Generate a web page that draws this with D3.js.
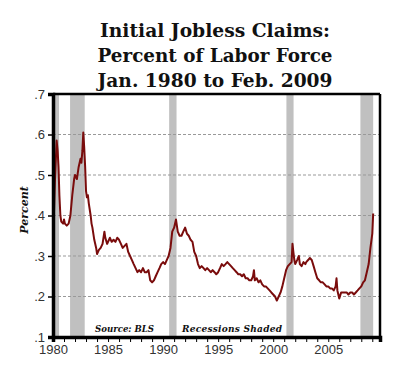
<!DOCTYPE html>
<html><head><meta charset="utf-8">
<script src="https://cdn.jsdelivr.net/npm/d3@7"></script>
<style>body{margin:0;background:#fff}</style>
</head><body>
<svg id="c" width="400" height="366"></svg>
<script>
const titleLines = ["Initial Jobless Claims:", "Percent of Labor Force", "Jan. 1980 to Feb. 2009"];
const yTicks = [0.1, 0.2, 0.3, 0.4, 0.5, 0.6, 0.7];
const yTickLabels = [".1", ".2", ".3", ".4", ".5", ".6", ".7"];
const xTicks = [1980, 1985, 1990, 1995, 2000, 2005];
const recessions = [[1980.08, 1980.55], [1981.55, 1982.88], [1990.55, 1991.22], [2001.2, 2001.85], [2007.92, 2009.08]];
const years = [
1980.00,1980.08,1980.17,1980.33,1980.42,1980.50,1980.58,1980.67,1980.75,1980.92,
1981.00,1981.08,1981.25,1981.42,1981.58,1981.75,1981.92,1982.00,1982.17,1982.33,
1982.50,1982.58,1982.67,1982.75,1982.83,1982.92,1983.00,1983.08,1983.17,1983.25,
1983.42,1983.50,1983.58,1983.75,1983.92,1984.00,1984.17,1984.33,1984.50,1984.67,
1984.75,1984.92,1985.00,1985.17,1985.33,1985.50,1985.67,1985.83,1986.00,1986.17,
1986.33,1986.50,1986.67,1986.83,1987.00,1987.17,1987.33,1987.50,1987.67,1987.83,
1988.00,1988.17,1988.33,1988.50,1988.67,1988.83,1989.00,1989.17,1989.33,1989.50,
1989.67,1989.83,1990.00,1990.17,1990.33,1990.50,1990.67,1990.83,1991.00,1991.17,
1991.33,1991.50,1991.67,1991.83,1992.00,1992.17,1992.33,1992.50,1992.67,1992.83,
1993.00,1993.17,1993.33,1993.50,1993.67,1993.83,1994.00,1994.17,1994.33,1994.50,
1994.67,1994.83,1995.00,1995.17,1995.33,1995.50,1995.67,1995.83,1996.00,1996.17,
1996.33,1996.50,1996.67,1996.83,1997.00,1997.17,1997.33,1997.50,1997.67,1997.83,
1998.00,1998.17,1998.25,1998.33,1998.50,1998.67,1998.83,1999.00,1999.17,1999.33,
1999.50,1999.67,1999.83,2000.00,2000.17,2000.33,2000.50,2000.67,2000.83,2001.00,
2001.17,2001.33,2001.50,2001.67,2001.75,2001.83,2001.92,2002.00,2002.17,2002.33,
2002.42,2002.58,2002.75,2002.92,2003.00,2003.17,2003.33,2003.50,2003.67,2003.83,
2004.00,2004.17,2004.33,2004.50,2004.67,2004.83,2005.00,2005.17,2005.33,2005.50,
2005.67,2005.75,2005.83,2006.00,2006.17,2006.33,2006.50,2006.67,2006.83,2007.00,
2007.17,2007.33,2007.50,2007.67,2007.83,2008.00,2008.17,2008.33,2008.50,2008.67,
2008.83,2009.00,2009.08];
const claims = [
.395,.40,.48,.585,.56,.52,.45,.40,.385,.38,
.39,.38,.375,.38,.40,.45,.49,.50,.49,.52,
.54,.53,.56,.605,.57,.52,.46,.445,.45,.43,
.40,.38,.37,.34,.32,.305,.315,.32,.33,.36,
.345,.33,.335,.345,.335,.34,.335,.345,.34,.33,
.32,.325,.33,.31,.30,.29,.28,.27,.26,.265,
.26,.27,.26,.26,.265,.24,.235,.24,.25,.26,
.27,.28,.285,.28,.29,.30,.32,.36,.37,.39,
.36,.35,.35,.36,.37,.355,.35,.34,.335,.31,
.30,.28,.27,.275,.27,.265,.27,.265,.26,.265,
.26,.255,.26,.27,.28,.275,.28,.285,.28,.275,
.27,.265,.26,.255,.255,.25,.255,.245,.245,.24,
.24,.25,.265,.24,.245,.235,.24,.23,.225,.225,
.22,.215,.21,.205,.20,.19,.20,.21,.225,.245,
.265,.275,.28,.285,.33,.31,.29,.28,.29,.30,
.28,.275,.285,.28,.285,.29,.295,.29,.275,.26,
.245,.24,.235,.235,.23,.225,.225,.22,.22,.215,
.225,.245,.215,.195,.21,.21,.21,.21,.205,.21,
.21,.205,.21,.215,.22,.225,.235,.24,.26,.28,
.32,.355,.405];

const svg = d3.select("#c");
const x = d3.scaleLinear().domain([1980, 2009.7]).range([53, 380]);
const y = d3.scaleLinear().domain([0.1, 0.7]).range([337, 94]);

// title
svg.selectAll("text.title").data(titleLines).enter().append("text")
  .attr("class","title")
  .attr("x", 215).attr("y", (d,i) => 37 + i*25)
  .attr("text-anchor","middle")
  .attr("font-family","'DejaVu Serif', serif").attr("font-weight","bold")
  .attr("font-size", 19).attr("fill","#111")
  .attr("textLength", (d,i) => [230,235,235][i]).attr("lengthAdjust","spacingAndGlyphs")
  .text(d => d);

// recessions
svg.selectAll("rect.rec").data(recessions).enter().append("rect")
  .attr("x", d => x(d[0])).attr("width", d => x(d[1]) - x(d[0]))
  .attr("y", y(0.7)).attr("height", y(0.1) - y(0.7))
  .attr("fill","#c0c0c0");

// grid
svg.selectAll("line.grid").data(yTicks.slice(1, -1)).enter().append("line")
  .attr("x1", x(1980)).attr("x2", x(2009.7))
  .attr("y1", d => y(d)).attr("y2", d => y(d))
  .attr("stroke","#999").attr("stroke-width",1).attr("stroke-dasharray","3,2");

// line
const line = d3.line().x((d,i) => x(years[i])).y(d => y(d));
svg.append("path").datum(claims).attr("d", line)
  .attr("fill","none").attr("stroke","#7a0c0c").attr("stroke-width",2).attr("stroke-linejoin","round");

// frame
svg.append("line").attr("x1", x(1980)).attr("x2", x(2009.7)).attr("y1", y(0.7)).attr("y2", y(0.7)).attr("stroke","#000").attr("stroke-width",2.5);
svg.append("line").attr("x1", x(2009.7)).attr("x2", x(2009.7)).attr("y1", y(0.7)).attr("y2", y(0.1)).attr("stroke","#000").attr("stroke-width",2.5);

// y axis
const yAxis = d3.axisLeft(y).tickValues(yTicks).tickFormat((d,i) => yTickLabels[i]).tickSize(5).tickPadding(3);
const ya = svg.append("g").attr("transform", `translate(${x(1980)},0)`).call(yAxis);
ya.select(".domain").attr("stroke","#000").attr("stroke-width",3.5);
ya.selectAll(".tick line").attr("stroke","#000").attr("stroke-width",1.5);
ya.selectAll(".tick text").attr("font-family","'Liberation Sans', Arial, sans-serif").attr("font-size",13).attr("fill","#333");

// x axis
const yearTicks = d3.range(1980, 2010);
const xAxis = d3.axisBottom(x).tickValues(yearTicks).tickFormat(d => xTicks.includes(d) ? String(d) : "").tickSize(5).tickPadding(3);
const xa = svg.append("g").attr("transform", `translate(0,${y(0.1)})`).call(xAxis);
xa.select(".domain").attr("stroke","#000").attr("stroke-width",3.5);
xa.selectAll(".tick line").attr("stroke","#000").attr("stroke-width",1);
xa.selectAll(".tick text").attr("font-family","'Liberation Sans', Arial, sans-serif").attr("font-size",13).attr("fill","#333");

// y label
svg.append("text").attr("transform","translate(28,210) rotate(-90)")
  .attr("text-anchor","middle").attr("font-family","'DejaVu Serif', serif")
  .attr("font-weight","bold").attr("font-style","italic").attr("font-size",11).attr("fill","#111")
  .text("Percent");

// notes
svg.append("text").attr("x", 95).attr("y", 332)
  .attr("font-family","'DejaVu Serif', serif").attr("font-weight","bold").attr("font-style","italic")
  .attr("font-size",9).attr("fill","#111").attr("textLength",59).attr("lengthAdjust","spacingAndGlyphs")
  .text("Source: BLS");
svg.append("text").attr("x", 182).attr("y", 332)
  .attr("font-family","'DejaVu Serif', serif").attr("font-weight","bold").attr("font-style","italic")
  .attr("font-size",9).attr("fill","#111").attr("textLength",100).attr("lengthAdjust","spacing")
  .text("Recessions Shaded");
</script>
</body></html>
